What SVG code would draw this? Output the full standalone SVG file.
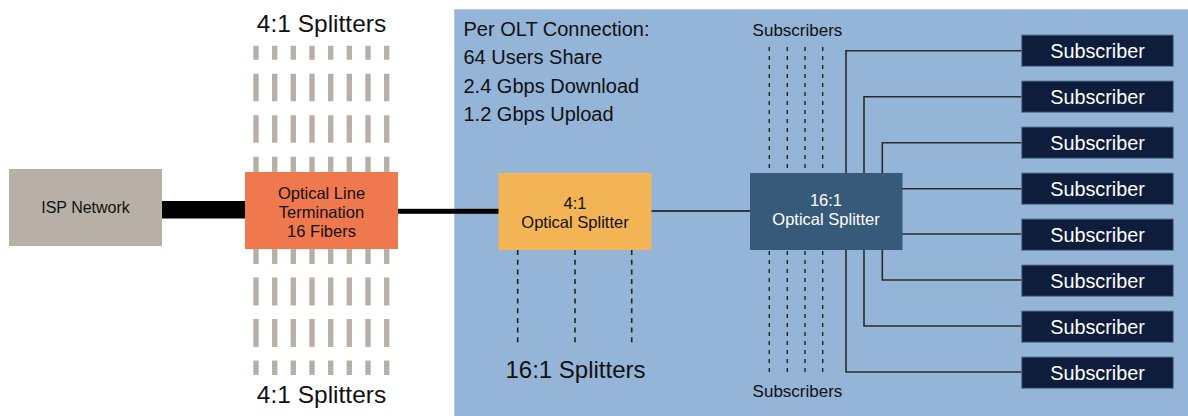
<svg xmlns="http://www.w3.org/2000/svg" width="1188" height="416" viewBox="0 0 1188 416">
<style>
text{font-family:"Liberation Sans",Arial,sans-serif;fill:#111}
.c{text-anchor:middle}
.w{fill:#fff}
.bar{stroke:#b8b0a6;stroke-width:5.4}
.bt{stroke-dasharray:27.5 14;stroke-dashoffset:13.5}
.bb{stroke-dasharray:28 13.5;stroke-dashoffset:13}
.d{stroke:#222;stroke-width:1.4;stroke-dasharray:4 5}
.d2{stroke:#222;stroke-width:1.6;stroke-dasharray:5 4.7}
.ln{stroke:#2b2b2b;stroke-width:1.6;fill:none}
.sub{fill:#0d1d3b;stroke:#5c7a9a;stroke-width:1}
</style>
<rect x="0" y="0" width="1188" height="416" fill="#fff"/>
<rect id="olt-region" x="454.5" y="9.5" width="734" height="407" fill="#94b4d8" stroke="#b3c9e3" stroke-width="1"/>
<g id="splitter-bars-top">
<line class="bar bt" x1="256" y1="45.7" x2="256" y2="172"/>
<line class="bar bt" x1="274.7" y1="45.7" x2="274.7" y2="172"/>
<line class="bar bt" x1="293.3" y1="45.7" x2="293.3" y2="172"/>
<line class="bar bt" x1="312" y1="45.7" x2="312" y2="172"/>
<line class="bar bt" x1="330.7" y1="45.7" x2="330.7" y2="172"/>
<line class="bar bt" x1="349.3" y1="45.7" x2="349.3" y2="172"/>
<line class="bar bt" x1="368" y1="45.7" x2="368" y2="172"/>
<line class="bar bt" x1="386.7" y1="45.7" x2="386.7" y2="172"/>
</g>
<g id="splitter-bars-bottom">
<line class="bar bb" x1="256" y1="249" x2="256" y2="375"/>
<line class="bar bb" x1="274.7" y1="249" x2="274.7" y2="375"/>
<line class="bar bb" x1="293.3" y1="249" x2="293.3" y2="375"/>
<line class="bar bb" x1="312" y1="249" x2="312" y2="375"/>
<line class="bar bb" x1="330.7" y1="249" x2="330.7" y2="375"/>
<line class="bar bb" x1="349.3" y1="249" x2="349.3" y2="375"/>
<line class="bar bb" x1="368" y1="249" x2="368" y2="375"/>
<line class="bar bb" x1="386.7" y1="249" x2="386.7" y2="375"/>
</g>
<text class="c" x="321.5" y="31.7" font-size="24.5">4:1 Splitters</text>
<text class="c" x="321.5" y="403.3" font-size="24.5">4:1 Splitters</text>
<g id="olt-info">
<text x="463.5" y="35.7" font-size="20">Per OLT Connection:</text>
<text x="463.5" y="64.2" font-size="20">64 Users Share</text>
<text x="463.5" y="92.7" font-size="20">2.4 Gbps Download</text>
<text x="463.5" y="121.2" font-size="20">1.2 Gbps Upload</text>
</g>
<g id="connectors">
<rect x="161" y="201" width="86" height="17.5" fill="#000"/>
<rect x="397" y="208.8" width="103" height="5" fill="#000"/>
<line x1="651" y1="211" x2="751" y2="211" stroke="#111" stroke-width="1.5"/>
<line class="d2" x1="517.7" y1="250" x2="517.7" y2="346"/>
<line class="d2" x1="575" y1="250" x2="575" y2="346"/>
<line class="d2" x1="631.7" y1="250" x2="631.7" y2="346"/>
<line class="d" x1="769.3" y1="47" x2="769.3" y2="173"/>
<line class="d" x1="787.3" y1="47" x2="787.3" y2="173"/>
<line class="d" x1="805" y1="47" x2="805" y2="173"/>
<line class="d" x1="822.7" y1="47" x2="822.7" y2="173"/>
<line class="d" x1="769.3" y1="251" x2="769.3" y2="377"/>
<line class="d" x1="787.3" y1="251" x2="787.3" y2="377"/>
<line class="d" x1="805" y1="251" x2="805" y2="377"/>
<line class="d" x1="822.7" y1="251" x2="822.7" y2="377"/>
<polyline class="ln" points="846,174 846,50.7 1022,50.7"/>
<polyline class="ln" points="864,174 864,96.7 1022,96.7"/>
<polyline class="ln" points="882.3,174 882.3,142.7 1022,142.7"/>
<polyline class="ln" points="902,188.7 1022,188.7"/>
<polyline class="ln" points="902,234 1022,234"/>
<polyline class="ln" points="882.3,249 882.3,280 1022,280"/>
<polyline class="ln" points="864,249 864,326 1022,326"/>
<polyline class="ln" points="846,249 846,372 1022,372"/>
</g>
<text class="c" x="797.5" y="35.7" font-size="17">Subscribers</text>
<text class="c" x="797.5" y="396.7" font-size="17">Subscribers</text>
<text class="c" x="575.5" y="378" font-size="24">16:1 Splitters</text>
<g id="isp-network">
<rect x="9" y="169" width="153" height="77" fill="#b8b0a6"/>
<text class="c" x="85.5" y="212.5" font-size="16">ISP Network</text>
</g>
<g id="olt">
<rect x="245" y="172" width="153" height="77" fill="#f0784e"/>
<text class="c" x="321.5" y="198.5" font-size="16.5">Optical Line</text>
<text class="c" x="321.5" y="217.5" font-size="16.5">Termination</text>
<text class="c" x="321.5" y="236.5" font-size="16.5">16 Fibers</text>
</g>
<g id="splitter-4-1">
<rect x="498.5" y="173" width="153" height="77" fill="#f3b456"/>
<text class="c" x="575" y="208.5" font-size="16.5">4:1</text>
<text class="c" x="575" y="228" font-size="16.5">Optical Splitter</text>
</g>
<g id="splitter-16-1">
<rect x="750" y="173" width="152.5" height="77" fill="#375a7b"/>
<text class="c w" x="826" y="206" font-size="16.5">16:1</text>
<text class="c w" x="826" y="225" font-size="16.5">Optical Splitter</text>
</g>
<g id="subscriber-1"><rect class="sub" x="1021.7" y="35" width="151.6" height="31.3"/><text class="c w" x="1097.5" y="57.8" font-size="19.8">Subscriber</text></g>
<g id="subscriber-2"><rect class="sub" x="1021.7" y="81" width="151.6" height="31.3"/><text class="c w" x="1097.5" y="103.8" font-size="19.8">Subscriber</text></g>
<g id="subscriber-3"><rect class="sub" x="1021.7" y="127" width="151.6" height="31.3"/><text class="c w" x="1097.5" y="149.8" font-size="19.8">Subscriber</text></g>
<g id="subscriber-4"><rect class="sub" x="1021.7" y="173" width="151.6" height="31.3"/><text class="c w" x="1097.5" y="195.8" font-size="19.8">Subscriber</text></g>
<g id="subscriber-5"><rect class="sub" x="1021.7" y="219" width="151.6" height="31.3"/><text class="c w" x="1097.5" y="241.8" font-size="19.8">Subscriber</text></g>
<g id="subscriber-6"><rect class="sub" x="1021.7" y="265" width="151.6" height="31.3"/><text class="c w" x="1097.5" y="287.8" font-size="19.8">Subscriber</text></g>
<g id="subscriber-7"><rect class="sub" x="1021.7" y="311" width="151.6" height="31.3"/><text class="c w" x="1097.5" y="333.8" font-size="19.8">Subscriber</text></g>
<g id="subscriber-8"><rect class="sub" x="1021.7" y="357" width="151.6" height="31.3"/><text class="c w" x="1097.5" y="379.8" font-size="19.8">Subscriber</text></g>
</svg>
